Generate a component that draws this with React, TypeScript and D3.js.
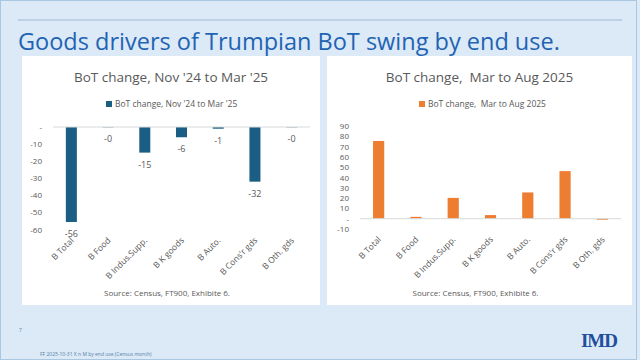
import React, { useEffect } from 'react';
import * as d3 from 'd3';

// categories shared by both panels
const categories = ['B Total', 'B Food', 'B Indus.Supp.', 'B K goods', 'B Auto.', "B Cons'r gds", 'B Oth. gds'];

// BoT change, Nov '24 to Mar '25 ($bn)
const leftValues = [-55.6, -0.2, -15, -6, -1, -32, -0.2];
const leftLabels = ['-56', '-0', '-15', '-6', '-1', '-32', '-0'];
const leftTicks = [0, -10, -20, -30, -40, -50, -60];

// BoT change, Mar to Aug 2025 ($bn)
const rightValues = [75.5, 1.8, 20.2, 3.5, 25.5, 46.2, -1];
const rightTicks = [90, 80, 70, 60, 50, 40, 30, 20, 10, 0, -10];

const FONT = "'Open Sans', 'Noto Sans', sans-serif";
const GREY = '#595959';

interface PanelProps {
  x0: number;
  x1: number;
  title: string;
  legend: string;
  legendX: number;
  color: string;
  values: number[];
  labels?: string[];
  ticks: number[];
  domain: [number, number];
  yRange: [number, number];
  plotX: [number, number];
  tickX: number;
  catY: number;
}

const fmt = (v: number) => (v === 0 ? '-' : String(v));

const Panel: React.FC<PanelProps> = ({ x0, x1, title, legend, legendX, color, values, labels, ticks, domain, yRange, plotX, tickX, catY }) => {
  const cx = (x0 + x1) / 2;
  const x = d3.scaleBand<string>().domain(categories).range(plotX).paddingInner(0.7).paddingOuter(0.35);
  const y = d3.scaleLinear().domain(domain).range(yRange);
  return (
    <g>
      <rect x={x0} y={56} width={x1 - x0} height={249} fill="#fff" />
      <text x={cx} y={82} textAnchor="middle" fontSize={13.5} fill={GREY} fontFamily={FONT} style={{ whiteSpace: 'pre' }}>{title}</text>
      <rect x={legendX - 9} y={101} width={6} height={6} fill={color} />
      <text x={legendX} y={107} fontSize={8.5} fill={GREY} fontFamily={FONT} style={{ whiteSpace: 'pre' }}>{legend}</text>
      {ticks.map(t => (
        <text key={t} x={tickX} y={y(t) + 3} textAnchor="end" fontSize={8} fill={GREY} fontFamily={FONT}>{fmt(t)}</text>
      ))}
      {values.map((v, i) => {
        const bx = x(categories[i]) || 0;
        return (
          <rect key={i} x={bx} y={Math.min(y(v), y(0))} width={x.bandwidth()} height={Math.abs(y(v) - y(0))} fill={color} />
        );
      })}
      <line x1={plotX[0]} x2={plotX[1]} y1={y(0)} y2={y(0)} stroke="#d9d9d9" strokeWidth={1} />
      {labels && values.map((v, i) => {
        const c = (x(categories[i]) || 0) + x.bandwidth() / 2;
        return (
          <text key={i} x={c} y={Math.max(y(v), y(0)) + 15} textAnchor="middle" fontSize={9} fill={GREY} fontFamily={FONT}>{labels[i]}</text>
        );
      })}
      {categories.map(c => {
        const px = (x(c) || 0) + x.bandwidth() / 2 + 3;
        const py = catY;
        return (
          <text key={c} x={px} y={py} transform={`rotate(-45,${px},${py})`} textAnchor="end" fontSize={8.5} fill={GREY} fontFamily={FONT}>{c}</text>
        );
      })}
      <text x={cx - 4} y={296} textAnchor="middle" fontSize={8} fill={GREY} fontFamily={FONT}>Source: Census, FT900, Exhibite 6.</text>
    </g>
  );
};

const App: React.FC = () => {
  useEffect(() => {
    document.body.style.margin = '0';
  }, []);
  return (
    <svg width={640} height={360} style={{ position: 'fixed', left: 0, top: 0 }}>
      <rect x={0} y={0} width={640} height={360} fill="#dbeaf6" />
      <rect x={0.5} y={0.5} width={636} height={359} fill="none" stroke="#a9c6e2" />
      <line x1={18} x2={622} y1={20} y2={20} stroke="#9fb8d6" strokeWidth={1} />
      <text x={18} y={50} fontSize={23.5} fill="#1f63b3" fontFamily={FONT}>Goods drivers of Trumpian BoT swing by end use.</text>
      <Panel
        x0={22} x1={320}
        title="BoT change, Nov '24 to Mar '25"
        legend="BoT change, Nov '24 to Mar '25"
        legendX={115}
        color="#1b5e84"
        values={leftValues}
        labels={leftLabels}
        ticks={leftTicks}
        domain={[-60, 0]}
        yRange={[229.5, 127]}
        plotX={[53, 310]}
        tickX={42}
        catY={241}
      />
      <Panel
        x0={327} x1={632}
        title="BoT change,  Mar to Aug 2025"
        legend="BoT change,  Mar to Aug 2025"
        legendX={428}
        color="#ed7d31"
        values={rightValues}
        ticks={rightTicks}
        domain={[-10, 90]}
        yRange={[229, 126]}
        plotX={[360, 621]}
        tickX={349}
        catY={240}
      />
      <text x={19} y={332} fontSize={5} fill="#5a7fa8" fontFamily={FONT}>7</text>
      <text x={40} y={356} fontSize={5} fill="#5a7fa8" fontFamily={FONT}>FF 2025-10-31 X n M by end use (Census month)</text>
      <text x={617} y={347} textAnchor="end" fontSize={19} fontWeight="bold" fill="#1f4f9e" fontFamily="'Liberation Serif', 'DejaVu Serif', serif" letterSpacing={-1}>IMD</text>
    </svg>
  );
};

export default App;
